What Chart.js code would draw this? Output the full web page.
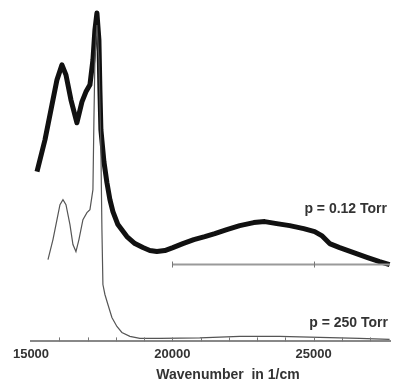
<!DOCTYPE html>
<html>
<head>
<meta charset="utf-8">
<script src="https://cdn.jsdelivr.net/npm/chart.js@4"></script>
<style>
  html, body { margin: 0; padding: 0; background: #fff; }
  #wrap { width: 394px; height: 383px; }
</style>
</head>
<body>
<div id="wrap"><canvas id="spectrum"></canvas></div>
<script>
// p = 0.12 Torr (thick, offset upwards)
var lowWavenumbers = [15212, 15495, 15742, 15919, 16095, 16237, 16413, 16625, 16802, 16943, 17085, 17191, 17261, 17332,
    17403, 17438, 17473, 17580, 17686, 17792, 17898, 18074, 18392, 18675, 18958, 19205, 19452, 19735, 20018, 20371,
    20760, 21148, 21502, 21926, 22385, 22880, 23269, 23693, 24152, 24647, 25035, 25283, 25565, 25919, 26413, 26908,
    27332, 27686];
var lowValues = [1.70, 2.02, 2.37, 2.62, 2.77, 2.67, 2.42, 2.19, 2.40, 2.50, 2.57, 2.82, 3.12, 3.29,
    3.02, 2.52, 2.12, 1.80, 1.59, 1.42, 1.30, 1.17, 1.05, 0.98, 0.94, 0.91, 0.90, 0.91, 0.94, 0.98,
    1.02, 1.05, 1.08, 1.12, 1.16, 1.19, 1.20, 1.18, 1.16, 1.13, 1.10, 1.06, 0.98, 0.94, 0.89, 0.84,
    0.80, 0.77];

// p = 250 Torr (thin)
var highWavenumbers = [15601, 15777, 15919, 16025, 16131, 16237, 16378, 16484, 16590, 16696, 16837, 16979, 17085,
    17191, 17226, 17261, 17332, 17403, 17473, 17509, 17544, 17615, 17721, 17862, 18039, 18216, 18498, 18852,
    19558, 20972, 22385, 23799, 25212, 26625, 27686];
var highValues = [0.82, 1.02, 1.22, 1.37, 1.42, 1.37, 1.17, 0.97, 0.90, 1.02, 1.22, 1.29, 1.32,
    1.52, 2.22, 2.82, 3.17, 2.82, 1.92, 1.12, 0.57, 0.47, 0.37, 0.24, 0.15, 0.09, 0.05, 0.03,
    0.03, 0.035, 0.05, 0.05, 0.04, 0.03, 0.02];

// zero line of the offset curve
var offsetWavenumbers = [20000, 27700];
var offsetValues = [0.77, 0.77];

var tickLabels = [15000, 20000, 25000];
var curveLabels = ['p = 0.12 Torr', 'p = 250 Torr'];
var axisTitle = 'Wavenumber  in 1/cm';

function toPoints(xs, ys) {
    return xs.map(function (x, i) { return { x: x, y: ys[i] }; });
}

// Small tick marks, axis title and the pressure labels
var extras = {
    id: 'extras',
    afterDatasetsDraw: function (chart) {
        var ctx = chart.ctx;
        var x = chart.scales.x;
        var y = chart.scales.y;
        ctx.save();
        ctx.strokeStyle = '#777';
        ctx.lineWidth = 1;
        var bottom = chart.chartArea.bottom;
        for (var v = 16000; v <= 27000; v += 1000) {
            var px = Math.round(x.getPixelForValue(v)) + 0.5;
            ctx.beginPath();
            ctx.moveTo(px, bottom - 4);
            ctx.lineTo(px, bottom);
            ctx.stroke();
        }
        var base = y.getPixelForValue(offsetValues[0]);
        [20000, 25000].forEach(function (v) {
            var px = Math.round(x.getPixelForValue(v)) + 0.5;
            ctx.beginPath();
            ctx.moveTo(px, base - 3);
            ctx.lineTo(px, base + 3);
            ctx.stroke();
        });

        ctx.fillStyle = '#333';
        ctx.font = 'bold 14px "Liberation Sans", Arial, sans-serif';
        ctx.textAlign = 'right';
        ctx.textBaseline = 'middle';
        ctx.fillText(curveLabels[0], 387, 209);
        ctx.fillText(curveLabels[1], 388, 323);

        ctx.textAlign = 'center';
        ctx.fillText(axisTitle, 228, 375);
        ctx.restore();
    }
};

new Chart(document.getElementById('spectrum'), {
    type: 'line',
    data: {
        datasets: [{
            data: toPoints(offsetWavenumbers, offsetValues),
            borderColor: '#9a9a9a',
            borderWidth: 2,
            pointRadius: 0
        }, {
            data: toPoints(highWavenumbers, highValues),
            borderColor: '#555',
            borderWidth: 1.2,
            pointRadius: 0,
            tension: 0
        }, {
            data: toPoints(lowWavenumbers, lowValues),
            borderColor: '#111',
            borderWidth: 5,
            pointRadius: 0,
            tension: 0,
            borderJoinStyle: 'round'
        }]
    },
    options: {
        responsive: true,
        maintainAspectRatio: false,
        animation: false,
        events: [],
        clip: false,
        layout: { padding: { left: 31, right: 4, top: 2, bottom: 16 } },
        plugins: {
            legend: { display: false },
            tooltip: { enabled: false }
        },
        scales: {
            x: {
                type: 'linear',
                min: 15000,
                max: 27700,
                afterBuildTicks: function (scale) {
                    scale.ticks = tickLabels.map(function (v) { return { value: v }; });
                },
                border: { display: true, color: '#888', width: 2 },
                grid: { drawOnChartArea: false, drawTicks: false },
                ticks: {
                    autoSkip: false,
                    maxRotation: 0,
                    padding: 5,
                    color: '#333',
                    font: { family: '"Liberation Sans", Arial, sans-serif', size: 13, weight: 'bold' },
                    callback: function (v) { return String(v); }
                }
            },
            y: {
                display: false,
                min: 0,
                max: 3.4
            }
        }
    },
    plugins: [extras]
});
</script>
</body>
</html>
